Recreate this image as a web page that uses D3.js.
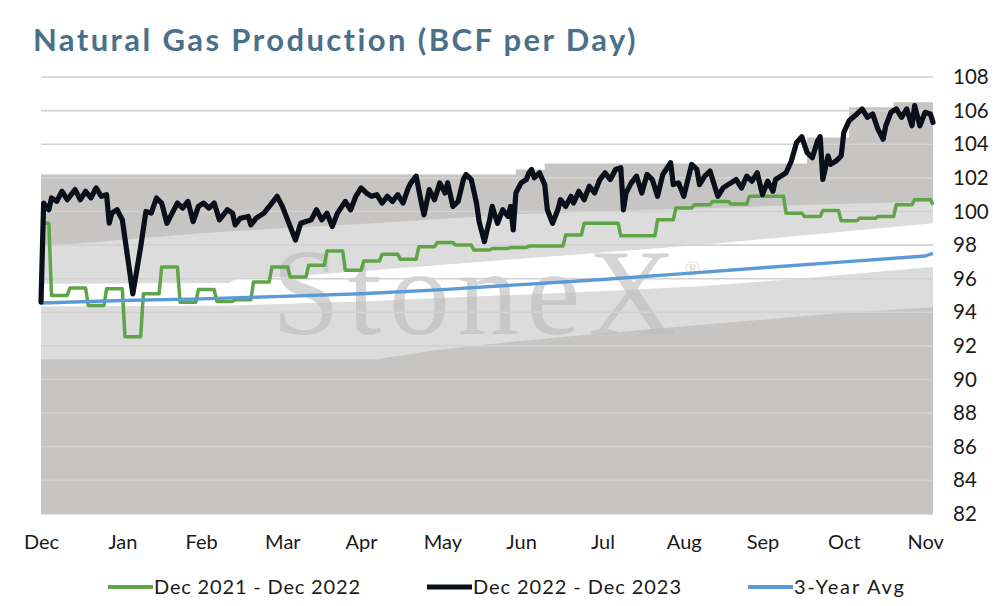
<!DOCTYPE html>
<html>
<head>
<meta charset="utf-8">
<script src="https://cdn.jsdelivr.net/npm/d3@7"></script>
<style>
  html, body { margin: 0; padding: 0; background: #fff; }
  svg { display: block; font-family: Lato, "Open Sans", sans-serif; }
</style>
</head>
<body>
<script>
// axis labels
var monthLabels = ["Dec","Jan","Feb","Mar","Apr","May","Jun","Jul","Aug","Sep","Oct","Nov"];
var monthDays = [0,31,61,92,122,153,183,214,245,275,306,337];
var yTickValues = [82,84,86,88,90,92,94,96,98,100,102,104,106,108];

// Dec 2022 - Dec 2023
var curDays = [0,1,3,4,6,8,10,13,15,17,19,21,23,25,26,27,29,31,35,38,40,42,44,46,48,50,52,54,56,58,60,62,64,66,68,71,73,74,76,79,80,82,85,87,88,90,92,94,97,99,101,103,105,107,109,111,113,116,118,120,122,124,126,128,130,132,134,136,138,140,141,143,145,146,148,150,152,154,155,157,159,161,162,164,166,167,169,171,172,174,176,178,179,180,181,183,185,186,187,188,190,192,193,195,197,198,200,202,203,205,207,209,211,213,215,217,219,221,222,223,225,227,229,231,233,235,237,240,241,243,245,248,250,251,253,255,257,258,260,263,265,267,269,271,273,275,277,279,280,282,284,286,288,290,292,294,296,297,298,300,301,303,305,306,308,311,313,315,317,319,321,322,324,326,328,330,332,333,335,337,339,340];
var curValues = [94.6,100.5,100.1,100.8,100.6,101.2,100.7,101.3,100.7,101.2,100.8,101.4,100.9,101.0,99.3,99.9,100.1,99.5,95.1,97.9,100.0,99.9,100.8,100.5,99.3,99.9,100.5,100.2,100.6,99.4,100.3,100.5,100.2,100.5,99.5,100.1,99.9,99.2,99.6,99.7,99.2,99.6,99.9,100.3,100.5,100.9,100.3,99.5,98.3,99.3,99.4,99.5,100.1,99.5,99.9,99.1,99.9,100.6,100.1,100.9,101.4,101.1,100.9,101.0,100.5,100.9,100.6,101.0,100.5,101.4,101.7,102.1,100.5,99.8,101.3,100.7,101.7,101.1,101.7,100.3,100.6,101.9,102.2,101.9,100.5,99.4,98.2,99.5,100.3,99.3,100.1,99.7,100.3,98.9,101.1,101.7,101.9,102.3,102.5,102.0,102.3,101.6,100.1,99.3,100.1,100.7,100.3,100.9,100.5,101.2,100.7,101.5,101.1,101.9,102.3,101.9,102.5,102.6,100.1,101.1,101.7,102.1,101.1,102.2,101.9,100.9,102.2,102.9,101.6,101.7,100.9,102.8,102.5,101.6,102.1,102.4,101.4,100.9,101.4,101.7,101.9,101.4,102.1,101.8,102.3,101.0,101.8,101.2,101.9,102.1,102.3,103.0,104.1,104.45,103.5,103.2,104.2,104.45,101.9,103.3,102.8,103.0,103.3,104.7,105.4,105.8,106.1,105.6,105.8,104.9,104.3,105.1,105.9,106.1,105.6,106.1,105.1,106.3,105.1,105.9,105.8,105.3];

// Dec 2021 - Dec 2022, weekly levels
var prevDays = [0,4,11,18,25,32,39,46,53,60,67,74,81,88,95,102,109,116,123,130,137,144,151,158,165,172,179,186,193,200,207,214,221,228,235,242,249,256,263,270,277,284,291,298,305,312,319,326,333,340];
var prevValues = [99.3,95.0,95.45,94.4,95.4,92.55,95.1,96.7,94.6,95.35,94.65,94.75,95.8,96.7,96.1,96.8,97.65,96.5,97.05,97.45,97.15,97.9,98.15,98.0,97.7,97.8,97.85,97.95,97.95,98.6,99.3,99.3,98.55,98.55,99.5,100.2,100.4,100.6,100.45,100.9,100.9,99.9,99.7,100.05,99.45,99.6,99.7,100.4,100.7,100.4];

// 3-year average
var avgDays = [0,31,61,92,122,153,183,214,245,275,306,337,340];
var avgValues = [94.55,94.7,94.8,94.95,95.1,95.35,95.65,95.95,96.3,96.65,97.0,97.35,97.5];

// shaded range boundaries, bottom to top
var band1Days = [0,128,150,180,210,240,270,300,340];
var band1 = [91.2,91.2,91.75,92.25,92.7,93.1,93.5,93.9,94.3];
var band2Days = [0,72,122,152,183,213,251,285,340];
var band2 = [94.35,94.4,94.65,94.85,95.05,95.25,95.55,95.95,96.7];
var band3Days = [0,72,74,83,130,180,251,285,340];
var band3 = [95.7,95.75,96.0,96.0,96.55,97.15,98.0,98.5,99.3];
var band4Days = [0,30,61,91,122,152,183,213,243,274,304,340];
var band4 = [97.9,98.3,98.7,99.0,99.25,99.55,99.85,100.0,100.15,100.3,100.45,100.6];
var band5Days = [0,181,192,292,308,325,340];
var band5 = [102.2,102.5,102.85,104.4,106.2,106.5,106.5];

var chartW = 994, chartH = 606;
var plotLeft = 41, plotRight = 933, plotTop = 77, plotBottom = 514;
var fontStack = "Lato, 'Open Sans', sans-serif";

var svg = d3.select("body").append("svg")
	.attr("width", chartW)
	.attr("height", chartH);

var x = d3.scaleLinear().domain([0, 340]).range([plotLeft, plotRight]);
var y = d3.scaleLinear().domain([82, 108]).range([plotBottom, plotTop]);

function pts(days, vals) {
	return days.map(function(d, i) { return [d, vals[i]]; });
}
var line = d3.line()
	.x(function(d) { return x(d[0]); })
	.y(function(d) { return y(d[1]); });

function band(lowD, lowV, highD, highV) {
	var p = pts(highD, highV).concat(pts(lowD, lowV).reverse());
	return line(p) + "Z";
}

// stretch a text to the width it has in the reference
function fitWidth(sel, w) {
	sel.each(function() {
		var t = d3.select(this);
		var n = t.text().length;
		var l = this.getComputedTextLength();
		t.attr("letter-spacing", ((w - l) / (n - 1)).toFixed(2));
	});
}

// dark gray range up to the max step line
svg.append("path")
	.datum(pts(band5Days, band5))
	.attr("fill", "#c6c5c3")
	.attr("d", d3.area()
		.curve(d3.curveStepAfter)
		.x(function(d) { return x(d[0]); })
		.y0(y(82))
		.y1(function(d) { return y(d[1]); }));

svg.append("path")
	.attr("fill", "#dcdcdc")
	.attr("d", band(band1Days, band1, band4Days, band4));

svg.append("path")
	.attr("fill", "#ffffff")
	.attr("d", band(band2Days, band2, band3Days, band3));

// watermark
var wm = svg.append("g").attr("fill", "#bcbcbc").attr("fill-opacity", 0.62);
wm.append("text")
	.attr("x", 272).attr("y", 334)
	.attr("font-family", "'Liberation Serif', 'DejaVu Serif', serif")
	.attr("font-size", 122)
	.attr("textLength", 404)
	.attr("lengthAdjust", "spacing")
	.text("StoneX");
wm.append("text")
	.attr("x", 685).attr("y", 276)
	.attr("font-family", "'Liberation Serif', 'DejaVu Serif', serif")
	.attr("font-size", 20)
	.text("\u00AE");

// gridlines
svg.append("g")
	.selectAll("line")
	.data(yTickValues)
	.enter().append("line")
		.attr("x1", plotLeft)
		.attr("x2", plotRight)
		.attr("y1", function(d) { return y(d); })
		.attr("y2", function(d) { return y(d); })
		.style("stroke", "#d2d2d2")
		.style("stroke-width", 1.6);

// y axis on the right
svg.append("g")
	.attr("transform", "translate(" + plotRight + ",0)")
	.call(d3.axisRight(y).tickValues(yTickValues).tickSize(0).tickPadding(20))
	.call(function(g) { g.select(".domain").remove(); })
	.selectAll("text")
		.attr("font-family", fontStack)
		.attr("font-size", 20.5)
		.attr("fill", "#1a1a1a");

// x axis labels
svg.append("g")
	.attr("transform", "translate(0," + plotBottom + ")")
	.call(d3.axisBottom(x).tickValues(monthDays)
		.tickFormat(function(d, i) { return monthLabels[i]; })
		.tickSize(0).tickPadding(21))
	.call(function(g) { g.select(".domain").remove(); })
	.selectAll("text")
		.attr("font-family", fontStack)
		.attr("font-size", 20)
		.attr("fill", "#1a1a1a");

// previous year, held weekly
var prevPts = [];
for (var i = 0; i < prevDays.length - 1; i++) {
	prevPts.push([prevDays[i], prevValues[i]]);
	prevPts.push([prevDays[i + 1] - 1, prevValues[i]]);
}
prevPts.push([prevDays[prevDays.length - 1], prevValues[prevValues.length - 1]]);

svg.append("path")
	.datum(prevPts)
	.attr("fill", "none")
	.style("stroke", "#5fa548")
	.style("stroke-width", 3.5)
	.style("stroke-linejoin", "round")
	.attr("d", line);

svg.append("path")
	.datum(pts(avgDays, avgValues))
	.attr("fill", "none")
	.style("stroke", "#5b9bd5")
	.style("stroke-width", 3.4)
	.style("stroke-linejoin", "round")
	.attr("d", line);

svg.append("path")
	.datum(pts(curDays, curValues))
	.attr("fill", "none")
	.style("stroke", "#0a0f1a")
	.style("stroke-width", 5.2)
	.style("stroke-linejoin", "round")
	.style("stroke-linecap", "round")
	.attr("d", line);

// title
svg.append("text")
	.attr("x", 33)
	.attr("y", 51)
	.attr("font-family", fontStack)
	.attr("font-weight", 700)
	.attr("font-size", 31)
	.attr("fill", "#4b708a")
	.text("Natural Gas Production (BCF per Day)")
	.call(fitWidth, 603);

// legend
var legendItems = [
	{ name: "Dec 2021 - Dec 2022", color: "#5fa548", x: 108, w: 4, tw: 206 },
	{ name: "Dec 2022 - Dec 2023", color: "#0a0f1a", x: 427, w: 5, tw: 208 },
	{ name: "3-Year Avg", color: "#5b9bd5", x: 748, w: 4, tw: 110 }
];
var lg = svg.append("g").selectAll("g")
	.data(legendItems)
	.enter().append("g");
lg.append("line")
	.attr("x1", function(d) { return d.x; })
	.attr("x2", function(d) { return d.x + 45; })
	.attr("y1", 587).attr("y2", 587)
	.style("stroke", function(d) { return d.color; })
	.style("stroke-width", function(d) { return d.w; });
lg.append("text")
	.attr("x", function(d) { return d.x + 46; })
	.attr("y", 594)
	.attr("font-family", fontStack)
	.attr("font-size", 20)
	.attr("fill", "#1a1a1a")
	.text(function(d) { return d.name; })
	.each(function(d) { d3.select(this).call(fitWidth, d.tw); });
</script>
</body>
</html>
